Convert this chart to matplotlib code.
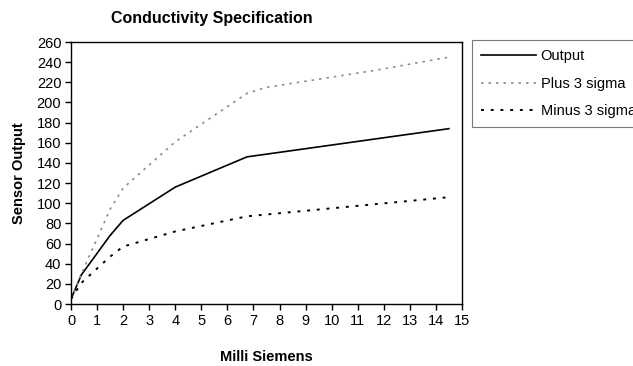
import matplotlib
matplotlib.use("Agg")
import matplotlib.pyplot as plt
from matplotlib.ticker import MultipleLocator

plt.rcParams['font.family'] = ['Liberation Sans', 'DejaVu Sans']

# data
x_output = [0, 0.4, 1.5, 2, 4, 6.75, 14.5]
output = [5, 29, 68, 83, 116, 146, 174]

x_plus = [0, 0.4, 1.5, 2, 4, 6.75, 7.5, 11.7, 14.5]
plus_3sigma = [5, 30, 94, 115, 161, 209, 215, 232, 245]

x_minus = [0, 0.4, 1.5, 2, 4, 6.75, 14.5]
minus_3sigma = [5, 21, 47, 57, 72, 87, 106]

fig = plt.figure(figsize=(6.33, 3.66), dpi=100)
ax = fig.add_axes([71/633, 1 - 304/366, (462-71)/633, (304-42)/366])

ax.plot(x_output, output, color='black', linewidth=1.2, label='Output')
ax.plot(x_plus, plus_3sigma, color='#8c8c8c', linewidth=1.2,
        linestyle=(0, (1.5, 3)), label='Plus 3 sigma')
ax.plot(x_minus, minus_3sigma, color='black', linewidth=1.4,
        linestyle=(0, (1.5, 3.5)), label='Minus 3 sigma')

ax.set_xlim(0, 15)
ax.set_ylim(0, 260)
ax.xaxis.set_major_locator(MultipleLocator(1))
ax.yaxis.set_major_locator(MultipleLocator(20))
ax.tick_params(direction='out', length=4, width=1, labelsize=10.5, pad=3)
for sp in ax.spines.values():
    sp.set_linewidth(1.0)

ax.set_xlabel('Milli Siemens', fontsize=10.5, fontweight='bold', labelpad=16)
ax.set_ylabel('Sensor Output', fontsize=10.5, fontweight='bold', labelpad=8)

fig.text(212/633, 1 - 19/366, 'Conductivity Specification', fontsize=11.5,
         fontweight='bold', ha='center', va='center')

# legend runs off the right edge, as in the original
leg = fig.legend(loc='upper left', bbox_to_anchor=(472/633, 1 - 40/366),
                 frameon=True, fancybox=False, fontsize=10.5, handlelength=3.8,
                 handletextpad=0.3, borderpad=0.6, labelspacing=0.95,
                 borderaxespad=0)
leg.get_frame().set_edgecolor('#555555')
leg.get_frame().set_linewidth(0.8)

plt.savefig('out.png', dpi=100)
